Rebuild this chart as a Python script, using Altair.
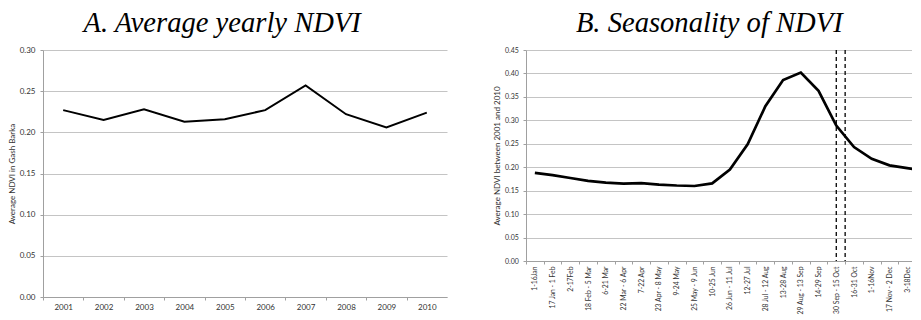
import altair as alt
import pandas as pd

# ---------------- data ----------------
years = ["2001", "2002", "2003", "2004", "2005", "2006", "2007", "2008", "2009", "2010"]
yearly_ndvi = [0.227, 0.215, 0.228, 0.213, 0.216, 0.227, 0.257, 0.222, 0.206, 0.224]

periods = ["1-16Jan", "17 Jan - 1 Feb", "2-17Feb", "18 Feb - 5 Mar", "6-21 Mar",
           "22 Mar - 6 Apr", "7-22 Apr", "23 Apr - 8 May", "9-24 May", "25 May - 9 Jun",
           "10-25 Jun", "26 Jun - 11 Jul", "12-27 Jul", "28 Jul - 12 Aug", "13-28 Aug",
           "29 Aug - 13 Sep", "14-29 Sep", "30 Sep - 15 Oct", "16-31 Oct", "1-16Nov",
           "17 Nov - 2 Dec", "3-18Dec", "19 Dec - 3 Jan"]
seasonal_ndvi = [0.188, 0.183, 0.177, 0.171, 0.167, 0.165, 0.166, 0.163, 0.161, 0.160,
                 0.1655, 0.195, 0.249, 0.330, 0.386, 0.402, 0.363, 0.289, 0.243, 0.218,
                 0.204, 0.198, 0.192]
marker_index = [17.0, 17.5]

y_ticks_a = [0.0, 0.05, 0.10, 0.15, 0.20, 0.25, 0.30]
y_ticks_b = [0.0, 0.05, 0.10, 0.15, 0.20, 0.25, 0.30, 0.35, 0.40, 0.45]

dfA = pd.DataFrame({"idx": list(range(len(years))), "year": years, "ndvi": yearly_ndvi})
dfB = pd.DataFrame({"idx": list(range(len(periods))), "period": periods, "ndvi": seasonal_ndvi})
dfM = pd.DataFrame({"idx": marker_index})


def label_expr(labels, last_index):
    arr = "[" + ",".join("'" + s + "'" for s in labels) + "]"
    return f"datum.value + 0.5 > {last_index + 0.1} ? '' : {arr}[round(datum.value + 0.5)]"


FONT = "Lato"
SERIF = "Liberation Serif, Times New Roman, serif"
TXT = "#333333"
AX = "#a0a0a0"

# ---------------- panel A ----------------
wA, hA = 404, 247
bandA = wA / len(years)
xA = alt.X(
    "idx:Q",
    scale=alt.Scale(domain=[-0.5, len(years) - 0.5], nice=False, zero=False),
    axis=alt.Axis(values=[i - 0.5 for i in range(len(years))], tickCount=100,
                  labelExpr=label_expr(years, len(years) - 1),
                  labelOffset=bandA / 2, labelAngle=0, labelAlign="center",
                  labelFlush=False, labelOverlap=False, grid=False, title=None,
                  tickSize=3, labelPadding=3, labelFontSize=8),
)
yA = alt.Y(
    "ndvi:Q",
    scale=alt.Scale(domain=[0, 0.30], nice=False, zero=True),
    axis=alt.Axis(values=y_ticks_a, tickCount=100, format=".2f",
                  title="Average NDVI in Gash Barka",
                  tickSize=3, labelPadding=5, titlePadding=3, labelFontSize=8,
                  titleFontSize=8),
)
chartA = (
    alt.Chart(dfA)
    .mark_line(color="black", strokeWidth=2)
    .encode(x=xA, y=yA)
    .properties(
        width=wA, height=hA,
        title=alt.TitleParams("A. Average yearly NDVI", font=SERIF,
                              fontStyle="italic", fontWeight="normal", fontSize=28.6,
                              color="black", anchor="middle", baseline="alphabetic",
                              offset=-14.6, dx=-22.8),
    )
)

# ---------------- panel B ----------------
wB, hB = 386, 211
bandB = 17.73
xmaxB = -0.5 + wB / bandB
xB = alt.X(
    "idx:Q",
    scale=alt.Scale(domain=[-0.5, xmaxB], nice=False, zero=False),
    axis=alt.Axis(values=[i - 0.5 for i in range(len(periods) - 1)], tickCount=100,
                  labelExpr=label_expr(periods, len(periods) - 2),
                  labelOffset=bandB / 2, labelAngle=-90, labelAlign="right",
                  labelBaseline="middle",
                  labelFlush=False, labelOverlap=False, grid=False, title=None,
                  tickSize=3, labelPadding=2, labelFontSize=6.8),
)
yB = alt.Y(
    "ndvi:Q",
    scale=alt.Scale(domain=[0, 0.45], nice=False, zero=True),
    axis=alt.Axis(values=y_ticks_b, tickCount=100, format=".2f",
                  title="Average NDVI between 2001 and 2010",
                  tickSize=3, labelPadding=4.7, titlePadding=2.5, labelFontSize=7,
                  titleFontSize=8),
)
lineB = alt.Chart(dfB).mark_line(color="black", strokeWidth=2.7, clip=True).encode(x=xB, y=yB)
rulesB = alt.Chart(dfM).mark_rule(color="black", strokeWidth=1.3, strokeDash=[4, 3]).encode(
    x=alt.X("idx:Q")
)
chartB = alt.layer(lineB, rulesB).properties(
    width=wB, height=hB,
    title=alt.TitleParams("B. Seasonality of NDVI", font=SERIF,
                          fontStyle="italic", fontWeight="normal", fontSize=28.6,
                          color="black", anchor="middle", baseline="alphabetic",
                          offset=-14.6, dx=-9.7),
)

chart = (
    alt.hconcat(chartA, chartB, spacing=46)
    .properties(padding={"left": 0, "top": 1, "right": 0, "bottom": 0})
    .configure_view(strokeWidth=0)
    .configure_axis(labelFont=FONT, titleFont=FONT, labelColor=TXT, titleColor=TXT,
                    titleFontWeight="normal", domainColor=AX, tickColor=AX,
                    gridColor="#c4c4c4", gridWidth=1, domainWidth=1, tickWidth=1,
                    labelOverlap=False)
)

chart.save("out.html", embed_options={"renderer": "svg", "actions": False})
